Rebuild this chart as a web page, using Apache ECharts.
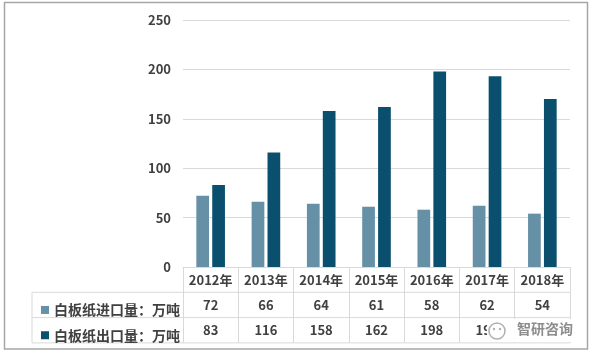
<!DOCTYPE html>
<html><head><meta charset="utf-8">
<script src="https://cdn.jsdelivr.net/npm/echarts@6/dist/echarts.min.js"></script>
<style>html,body{margin:0;padding:0;background:#fff}#c{width:593px;height:355px}</style>
</head><body><div id="c"></div>
<script>
var categories = ['2012年','2013年','2014年','2015年','2016年','2017年','2018年'];
var imports = [72, 66, 64, 61, 58, 62, 54];
var exports_ = [83, 116, 158, 162, 198, 193, 170];
var seriesNames = ['白板纸进口量：万吨', '白板纸出口量：万吨'];
var yTicks = {min: 0, max: 250, interval: 50};

var FONT = '"Noto Sans CJK SC", "Liberation Sans", sans-serif';
var TXT = '#404040';
var LINE = '#d9d9d9';
var chart = echarts.init(document.getElementById('c'));
var G = {left: 183, right: 23, top: 20, bottom: 88};
var W = 593, H = 355;
var gx0 = G.left, gx1 = W - G.right, gy0 = H - G.bottom;
var rowH = 25.3;
var WM = {x: 487, y: 319};

chart.setOption({
  animation: false,
  textStyle: {fontFamily: FONT},
  grid: {left: G.left, right: G.right, top: G.top, bottom: G.bottom},
  legend: {
    orient: 'vertical', left: 36, top: gy0 + rowH, itemGap: 0,
    icon: 'rect', itemWidth: 8, itemHeight: 8,
    textStyle: {fontSize: 14, fontWeight: 'bold', color: TXT, lineHeight: rowH, fontFamily: FONT},
    data: seriesNames
  },
  xAxis: {
    type: 'category', data: categories,
    axisLine: {lineStyle: {color: LINE}},
    axisTick: {show: true, length: rowH * 3, interval: 0, lineStyle: {color: LINE}},
    axisLabel: {
      interval: 0, margin: 0,
      formatter: function (v, i) {
        return '{y|' + v + '}\n{v|' + imports[i] + '}\n{v|' + exports_[i] + '}';
      },
      rich: {
        y: {fontSize: 13, fontWeight: 'bold', color: TXT, lineHeight: rowH, fontFamily: FONT},
        v: {fontSize: 13, fontWeight: 'bold', color: TXT, lineHeight: rowH, fontFamily: FONT}
      }
    }
  },
  yAxis: {
    type: 'value', min: yTicks.min, max: yTicks.max, interval: yTicks.interval,
    axisLine: {show: false}, axisTick: {show: false},
    axisLabel: {fontSize: 13, fontWeight: 'bold', color: TXT, margin: 12, fontFamily: FONT},
    splitLine: {lineStyle: {color: LINE}}
  },
  series: [
    {name: seriesNames[0], type: 'bar', data: imports, barWidth: '23%', barGap: '25%', itemStyle: {color: '#6690a6'}},
    {name: seriesNames[1], type: 'bar', data: exports_, barWidth: '23%', barGap: '25%', itemStyle: {color: '#0a4f6d'}}
  ],
  graphic: [
    {type: 'rect', shape: {x: 4.5, y: 2.5, width: 583, height: 346.5}, style: {fill: 'none', stroke: '#a6a6a6', lineWidth: 1.5}, silent: true},
    {type: 'line', shape: {x1: 32, y1: gy0 + rowH, x2: gx1, y2: gy0 + rowH}, style: {stroke: LINE, lineWidth: 1}},
    {type: 'line', shape: {x1: 32, y1: gy0 + rowH * 2, x2: gx1, y2: gy0 + rowH * 2}, style: {stroke: LINE, lineWidth: 1}},
    {type: 'line', shape: {x1: 32, y1: gy0 + rowH * 3, x2: gx1, y2: gy0 + rowH * 3}, style: {stroke: LINE, lineWidth: 1}},
    {type: 'line', shape: {x1: 32, y1: gy0 + rowH, x2: 32, y2: gy0 + rowH * 3}, style: {stroke: LINE, lineWidth: 1}},
    {type: 'rect', zlevel: 1, z: 100, shape: {x: WM.x, y: WM.y, width: 89, height: 23}, style: {fill: 'rgba(255,255,255,0.95)'}},
    {type: 'circle', zlevel: 1, z: 101, shape: {cx: WM.x + 10, cy: WM.y + 12, r: 8}, style: {fill: '#fff', stroke: '#b0b0b0', lineWidth: 1.5}},
    {type: 'circle', zlevel: 1, z: 102, shape: {cx: WM.x + 7, cy: WM.y + 10, r: 1.2}, style: {fill: '#b0b0b0'}},
    {type: 'circle', zlevel: 1, z: 102, shape: {cx: WM.x + 13, cy: WM.y + 10, r: 1.2}, style: {fill: '#b0b0b0'}},
    {type: 'text', zlevel: 1, z: 102, style: {x: WM.x + 30, y: WM.y + 3, text: '智研咨询', font: 'bold 14px "Noto Sans CJK SC"', fill: '#8c8c8c'}}
  ]
});
</script></body></html>
